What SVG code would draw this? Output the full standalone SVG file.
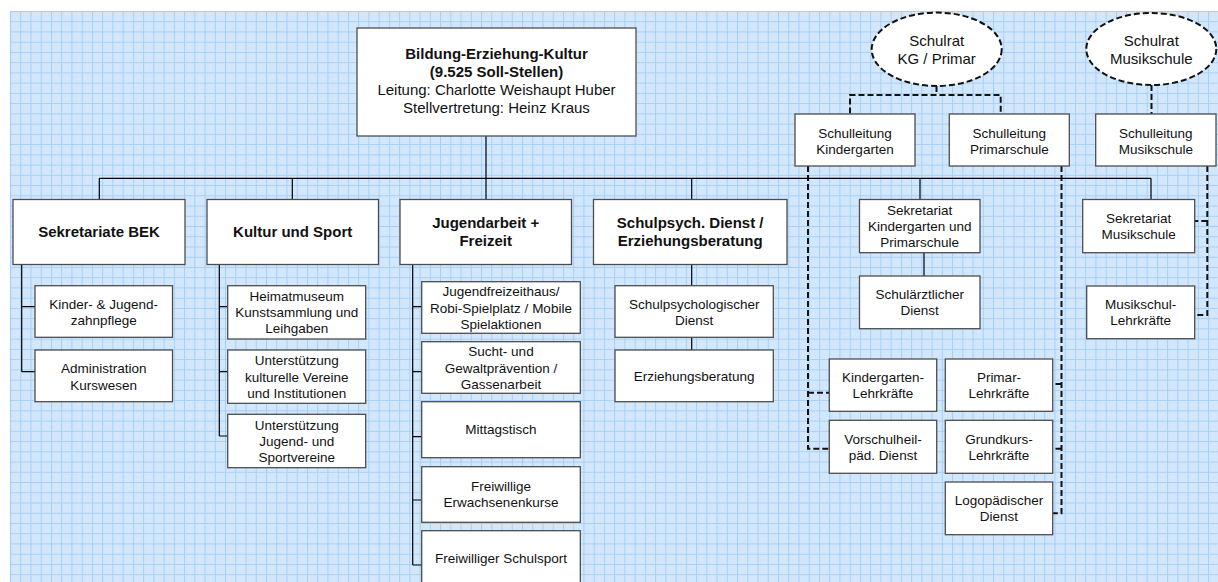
<svg xmlns="http://www.w3.org/2000/svg" width="1218" height="582" viewBox="0 0 1218 582">
  <defs>
    <pattern id="grid" patternUnits="userSpaceOnUse" x="10" y="11" width="10.24" height="10.24">
      <rect width="10.24" height="10.24" fill="#d2e7fc"/>
      <path d="M0.5 0 V10.24 M0 0.5 H10.24" stroke="#a6cff7" stroke-width="1" fill="none"/>
    </pattern>
    <style>
      .box { fill: #ffffff; stroke: #4d4d4d; stroke-width: 1.3; }
      .oval { fill: #ffffff; stroke: #111111; stroke-width: 2; stroke-dasharray: 6 3; }
      .solid { fill: none; stroke: #000000; stroke-width: 1.2; }
      .dash { fill: none; stroke: #111111; stroke-width: 2; stroke-dasharray: 6 3; }
      text { font-family: "Liberation Sans", Arial, sans-serif; fill: #111111; text-anchor: middle; }
      .t { font-size: 13.5px; }
      .h { font-size: 15px; font-weight: bold; }
      .m { font-size: 15px; }
    </style>
  </defs>

  <!-- drawing sheet -->
  <rect x="0" y="0" width="1218" height="582" fill="#ffffff"/>
  <rect x="10" y="11" width="1208" height="571" fill="url(#grid)"/>

  <!-- connectors -->
  <g id="connectors">
    <path class="solid" d="M486 136 V199.5 M99.3 178.3 H1151 M99.3 178.3 V199.5 M292.3 178.3 V199.5 M691.7 178.3 V199.5 M920 178.3 V199.5 M1151 178.3 V199.5"/>
    <path class="solid" d="M21.7 264.3 V371.7 M21.7 306.7 H35 M21.7 371.7 H35"/>
    <path class="solid" d="M219.3 264.3 V436 M219.3 306.7 H227.7 M219.3 371.7 H227.7 M219.3 436 H227.7"/>
    <path class="solid" d="M412.7 264.3 V565 M412.7 306.7 H421.7 M412.7 371.7 H421.7 M412.7 436.7 H421.7 M412.7 500 H421.7 M412.7 565 H421.7"/>
    <path class="solid" d="M691.7 264.3 V285.7 M691.7 337.3 V350"/>
    <path class="solid" d="M924 252.7 V276"/>
    <path class="dash" d="M936.5 86 V95 M850 113.5 V95 H1000.7 V113.5"/>
    <path class="dash" d="M1151.5 85 V114"/>
    <path class="dash" d="M808 166 V448.7 H829.3 M808 392.7 H829.3"/>
    <path class="dash" d="M1061.5 166 V513.3 H1052.7 M1061.5 384 H1052.7 M1061.5 448.7 H1052.7"/>
    <path class="dash" d="M1207.3 166 V315 H1194.7 M1207.3 221 H1194.7"/>
  </g>

  <!-- head of department -->
  <g id="bek">
    <rect class="box" x="357" y="28" width="279" height="108"/>
    <text class="h" x="496.5" y="58.5">Bildung-Erziehung-Kultur</text>
    <text class="h" x="496.5" y="76.5">(9.525 Soll-Stellen)</text>
    <text class="m" x="496.5" y="94.5">Leitung: Charlotte Weishaupt Huber</text>
    <text class="m" x="496.5" y="112.5">Stellvertretung: Heinz Kraus</text>
  </g>

  <!-- school boards -->
  <g id="schulrat-kg-primar">
    <ellipse class="oval" cx="936.7" cy="49.3" rx="65" ry="36.7"/>
    <text class="m" x="936.7" y="46">Schulrat</text>
    <text class="m" x="936.7" y="64">KG / Primar</text>
  </g>
  <g id="schulrat-musikschule">
    <ellipse class="oval" cx="1151.3" cy="49" rx="65" ry="36"/>
    <text class="m" x="1151.3" y="45.5">Schulrat</text>
    <text class="m" x="1151.3" y="63.5">Musikschule</text>
  </g>

  <!-- school management -->
  <g id="schulleitung-kg">
    <rect class="box" x="795" y="114" width="120" height="52"/>
    <text class="t" x="855" y="138">Schulleitung</text>
    <text class="t" x="855" y="154.2">Kindergarten</text>
  </g>
  <g id="schulleitung-primar">
    <rect class="box" x="949.3" y="114" width="120" height="52"/>
    <text class="t" x="1009.3" y="138">Schulleitung</text>
    <text class="t" x="1009.3" y="154.2">Primarschule</text>
  </g>
  <g id="schulleitung-musik">
    <rect class="box" x="1095.7" y="114" width="120.3" height="52"/>
    <text class="t" x="1155.8" y="138">Schulleitung</text>
    <text class="t" x="1155.8" y="154.2">Musikschule</text>
  </g>

  <!-- divisions -->
  <g id="sekretariate-bek">
    <rect class="box" x="13" y="199.5" width="172" height="65"/>
    <text class="h" x="99" y="237">Sekretariate BEK</text>
  </g>
  <g id="kultur-sport">
    <rect class="box" x="207" y="199.5" width="171.5" height="65"/>
    <text class="h" x="292.7" y="237">Kultur und Sport</text>
  </g>
  <g id="jugendarbeit">
    <rect class="box" x="400" y="199.5" width="171.5" height="65"/>
    <text class="h" x="485.7" y="228">Jugendarbeit +</text>
    <text class="h" x="485.7" y="245.7">Freizeit</text>
  </g>
  <g id="schulpsych">
    <rect class="box" x="593.5" y="199.5" width="193.5" height="65"/>
    <text class="h" x="690.2" y="228">Schulpsych. Dienst /</text>
    <text class="h" x="690.2" y="245.7">Erziehungsberatung</text>
  </g>
  <g id="sekretariat-kg-primar">
    <rect class="box" x="859.5" y="199.5" width="120.5" height="53.2"/>
    <text class="t" x="919.7" y="214.5">Sekretariat</text>
    <text class="t" x="919.7" y="230.7">Kindergarten und</text>
    <text class="t" x="919.7" y="246.9">Primarschule</text>
  </g>
  <g id="sekretariat-musik">
    <rect class="box" x="1082.7" y="199.5" width="112" height="53.2"/>
    <text class="t" x="1138.7" y="223.2">Sekretariat</text>
    <text class="t" x="1138.7" y="239.4">Musikschule</text>
  </g>

  <!-- Sekretariate BEK units -->
  <g id="zahnpflege">
    <rect class="box" x="35" y="285.7" width="137.5" height="51.6"/>
    <text class="t" x="103.7" y="309">Kinder- &amp; Jugend-</text>
    <text class="t" x="103.7" y="325.2">zahnpflege</text>
  </g>
  <g id="kurswesen">
    <rect class="box" x="35" y="350" width="137.5" height="51.7"/>
    <text class="t" x="103.7" y="373.3">Administration</text>
    <text class="t" x="103.7" y="389.5">Kurswesen</text>
  </g>

  <!-- Kultur und Sport units -->
  <g id="heimatmuseum">
    <rect class="box" x="227.7" y="285.7" width="138" height="53.3"/>
    <text class="t" x="296.7" y="301">Heimatmuseum</text>
    <text class="t" x="296.7" y="317.2">Kunstsammlung und</text>
    <text class="t" x="296.7" y="333.4">Leihgaben</text>
  </g>
  <g id="kulturvereine">
    <rect class="box" x="227.7" y="350" width="138" height="53.3"/>
    <text class="t" x="296.7" y="365.3">Unterstützung</text>
    <text class="t" x="296.7" y="381.5">kulturelle Vereine</text>
    <text class="t" x="296.7" y="397.7">und Institutionen</text>
  </g>
  <g id="sportvereine">
    <rect class="box" x="227.7" y="414.3" width="138" height="53.4"/>
    <text class="t" x="296.7" y="429.6">Unterstützung</text>
    <text class="t" x="296.7" y="445.8">Jugend- und</text>
    <text class="t" x="296.7" y="462">Sportvereine</text>
  </g>

  <!-- Jugendarbeit units -->
  <g id="jugendfreizeithaus">
    <rect class="box" x="421.7" y="281.7" width="158.6" height="51.6"/>
    <text class="t" x="501" y="296.3">Jugendfreizeithaus/</text>
    <text class="t" x="501" y="312.5">Robi-Spielplatz / Mobile</text>
    <text class="t" x="501" y="328.7">Spielaktionen</text>
  </g>
  <g id="gewaltpraevention">
    <rect class="box" x="421.7" y="341.7" width="158.6" height="51.6"/>
    <text class="t" x="501" y="356.3">Sucht- und</text>
    <text class="t" x="501" y="372.5">Gewaltprävention /</text>
    <text class="t" x="501" y="388.7">Gassenarbeit</text>
  </g>
  <g id="mittagstisch">
    <rect class="box" x="421.7" y="401.7" width="158.6" height="56"/>
    <text class="t" x="501" y="434.4">Mittagstisch</text>
  </g>
  <g id="erwachsenenkurse">
    <rect class="box" x="421.7" y="466.7" width="158.6" height="55.6"/>
    <text class="t" x="501" y="490.8">Freiwillige</text>
    <text class="t" x="501" y="507">Erwachsenenkurse</text>
  </g>
  <g id="schulsport">
    <rect class="box" x="421.7" y="530.7" width="158.6" height="56"/>
    <text class="t" x="501" y="563.3">Freiwilliger Schulsport</text>
  </g>

  <!-- Schulpsych units -->
  <g id="schulpsychologischer-dienst">
    <rect class="box" x="615" y="285.7" width="158.3" height="51.6"/>
    <text class="t" x="694.2" y="309">Schulpsychologischer</text>
    <text class="t" x="694.2" y="325.2">Dienst</text>
  </g>
  <g id="erziehungsberatung">
    <rect class="box" x="615" y="350" width="158.3" height="51.7"/>
    <text class="t" x="694.2" y="380.6">Erziehungsberatung</text>
  </g>

  <!-- school units -->
  <g id="schularzt">
    <rect class="box" x="859.5" y="276" width="120.5" height="52.7"/>
    <text class="t" x="919.7" y="299">Schulärztlicher</text>
    <text class="t" x="919.7" y="315.2">Dienst</text>
  </g>
  <g id="musikschul-lehrkraefte">
    <rect class="box" x="1086.7" y="286" width="108" height="52.7"/>
    <text class="t" x="1140.7" y="309">Musikschul-</text>
    <text class="t" x="1140.7" y="325.2">Lehrkräfte</text>
  </g>
  <g id="kg-lehrkraefte">
    <rect class="box" x="829.3" y="359" width="107.4" height="52.3"/>
    <text class="t" x="883" y="382">Kindergarten-</text>
    <text class="t" x="883" y="398.2">Lehrkräfte</text>
  </g>
  <g id="vorschulheilpaedagogik">
    <rect class="box" x="829.3" y="420.3" width="107.4" height="53"/>
    <text class="t" x="883" y="443.7">Vorschulheil-</text>
    <text class="t" x="883" y="459.9">päd. Dienst</text>
  </g>
  <g id="primar-lehrkraefte">
    <rect class="box" x="945.3" y="359" width="107.4" height="52.3"/>
    <text class="t" x="999" y="382">Primar-</text>
    <text class="t" x="999" y="398.2">Lehrkräfte</text>
  </g>
  <g id="grundkurs-lehrkraefte">
    <rect class="box" x="945.3" y="420.3" width="107.4" height="53"/>
    <text class="t" x="999" y="443.7">Grundkurs-</text>
    <text class="t" x="999" y="459.9">Lehrkräfte</text>
  </g>
  <g id="logopaedie">
    <rect class="box" x="945.3" y="482" width="107.4" height="52.7"/>
    <text class="t" x="999" y="505.2">Logopädischer</text>
    <text class="t" x="999" y="521.4">Dienst</text>
  </g>
</svg>
